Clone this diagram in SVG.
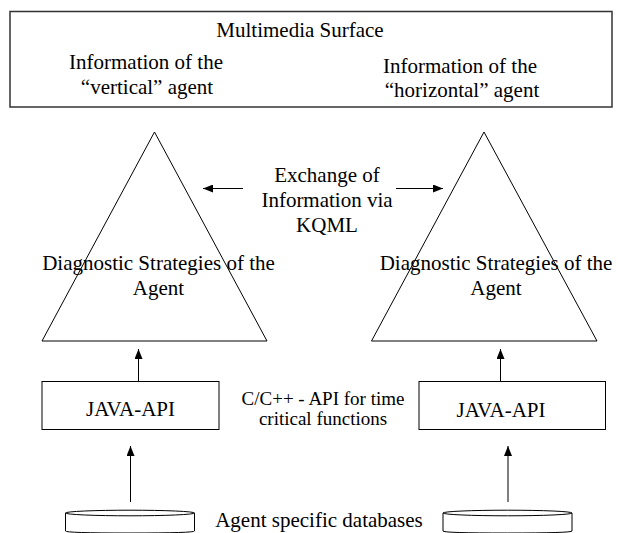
<svg xmlns="http://www.w3.org/2000/svg" width="618" height="533" viewBox="0 0 618 533">
<style>
text{font-family:"Liberation Serif","Times New Roman",serif;font-size:21px;fill:#000;text-anchor:middle}
.s{font-size:19px}
.ln{fill:none;stroke:#000;stroke-width:1}
.bx{fill:#fff;stroke:#000;stroke-width:1}
</style>
<defs>
<marker id="ah" viewBox="0 0 10 8" refX="10" refY="4" markerWidth="10" markerHeight="8" markerUnits="userSpaceOnUse" orient="auto">
<path d="M0,0 L10,4 L0,8 Z" fill="#000"/>
</marker>
</defs>
<g id="surface">
<rect x="10" y="11.5" width="602" height="95.5" fill="#fff" stroke="#333" stroke-width="1.5"/>
<text x="300" y="37">Multimedia Surface</text>
<text x="146" y="69">Information of the</text>
<text x="147" y="94">“vertical” agent</text>
<text x="460" y="73">Information of the</text>
<text x="462" y="97">“horizontal” agent</text>
</g>
<g id="agent-left">
<path class="ln" d="M154.5,132 L267,341 L42,341 Z"/>
<text x="158.5" y="270">Diagnostic Strategies of the</text>
<text x="158.5" y="295">Agent</text>
</g>
<g id="agent-right">
<path class="ln" d="M484,132 L597,341 L371.5,341 Z"/>
<text x="496" y="270">Diagnostic Strategies of the</text>
<text x="496" y="295">Agent</text>
</g>
<g id="exchange">
<text x="327" y="182">Exchange of</text>
<text x="327" y="207">Information via</text>
<text x="327" y="232">KQML</text>
</g>
<g id="java-left">
<rect class="bx" x="42" y="381.5" width="177" height="48"/>
<text x="130.5" y="416">JAVA-API</text>
</g>
<g id="java-right">
<rect class="bx" x="419" y="381.5" width="186.5" height="48"/>
<text x="501" y="417">JAVA-API</text>
</g>
<g id="cpp-label">
<text class="s" x="323" y="405">C/C++ - API for time</text>
<text class="s" x="323" y="425">critical functions</text>
</g>
<g id="db-left">
<path class="bx" d="M65.5,513 L65.5,531 Q65.5,533 130,533 Q194.5,533 194.5,531 L194.5,513"/>
<ellipse class="bx" cx="130" cy="513" rx="64.5" ry="2.8"/>
</g>
<g id="db-right">
<path class="bx" d="M443,513 L443,531 Q443,533 507.5,533 Q572,533 572,531 L572,513"/>
<ellipse class="bx" cx="507.5" cy="513" rx="64.5" ry="2.8"/>
</g>
<g id="db-label">
<text x="319" y="527">Agent specific databases</text>
</g>
<g id="connectors">
<line class="ln" x1="243" y1="188.5" x2="203" y2="188.5" marker-end="url(#ah)"/>
<line class="ln" x1="396" y1="188.5" x2="443" y2="188.5" marker-end="url(#ah)"/>
<line class="ln" x1="138.5" y1="381.5" x2="138.5" y2="349" marker-end="url(#ah)"/>
<line class="ln" x1="500.5" y1="381.5" x2="500.5" y2="349" marker-end="url(#ah)"/>
<line class="ln" x1="130.5" y1="502" x2="130.5" y2="446" marker-end="url(#ah)"/>
<line class="ln" x1="508" y1="502" x2="508" y2="446" marker-end="url(#ah)"/>
</g>
</svg>
